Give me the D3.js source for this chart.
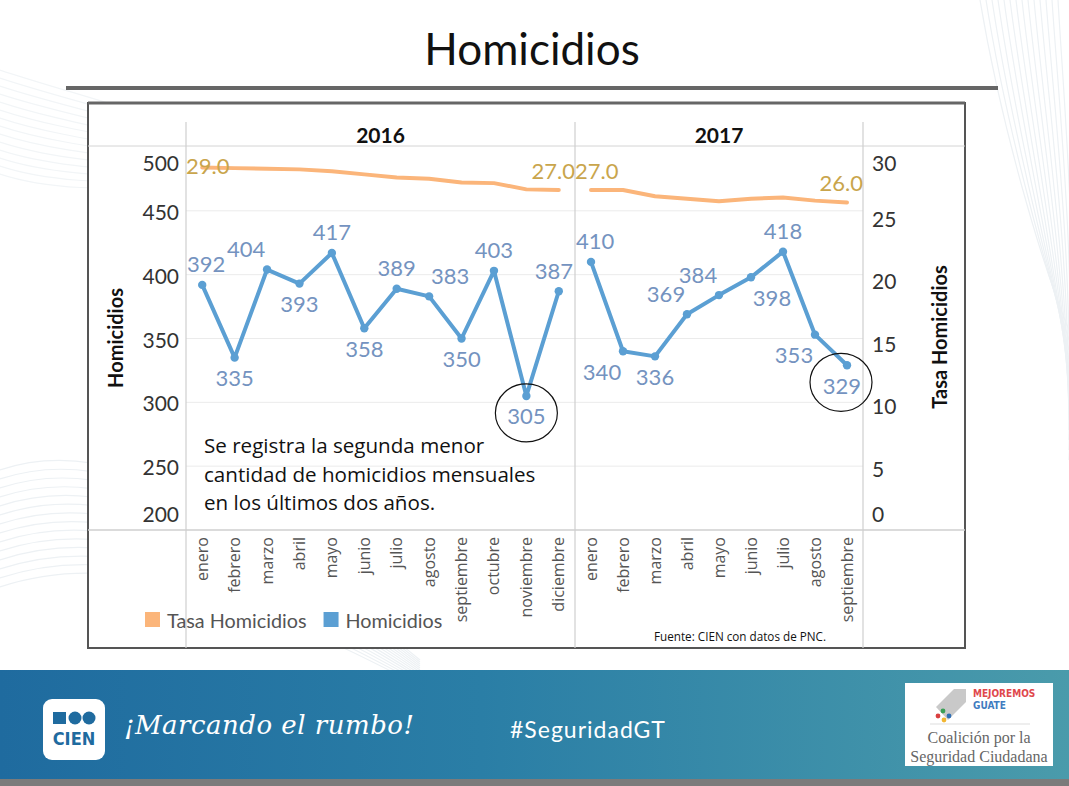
<!DOCTYPE html>
<html><head><meta charset="utf-8">
<script src="https://cdn.jsdelivr.net/npm/d3@7/dist/d3.min.js"></script>
<style>
html,body{margin:0;padding:0;background:#fff;}
svg{display:block;}
</style></head>
<body>
<svg id="c" width="1069" height="786"></svg>
<script>
// ---------------- DATA ----------------
const years = ["2016", "2017"];
const months2016 = ["enero","febrero","marzo","abril","mayo","junio","julio","agosto","septiembre","octubre","noviembre","diciembre"];
const months2017 = ["enero","febrero","marzo","abril","mayo","junio","julio","agosto","septiembre"];
const homicidios2016 = [392, 335, 404, 393, 417, 358, 389, 383, 350, 403, 305, 387];
const homicidios2017 = [410, 340, 336, 369, 384, 398, 418, 353, 329];
const tasa2016 = [29.0, 28.95, 28.9, 28.85, 28.7, 28.45, 28.2, 28.1, 27.8, 27.75, 27.25, 27.2];
const tasa2017 = [27.2, 27.2, 26.7, 26.5, 26.3, 26.5, 26.6, 26.35, 26.2];
const leftTicks = [200, 250, 300, 350, 400, 450, 500];
const rightTicks = [0, 5, 10, 15, 20, 25, 30];
const legendItems = ["Tasa Homicidios", "Homicidios"];
// label placement (layout only): t=top, b=bottom, l/r = shifted left/right
const labelPlace2016 = ["t","b","tl","b","t","b","t","tr","b","t","b","t"];
const labelPlace2017 = ["t","bl","b","tl","tl","br","t","bl","b"];
const tasaLabelIdx2016 = [0, 11];
const tasaLabelIdx2017 = [0, 8];
const highlight = [{panel:0, idx:10}, {panel:1, idx:8}];

// ---------------- LAYOUT ----------------
const svg = d3.select("#c");
const C_BLUE = "#5b9fd3", C_ORANGE = "#fbb57a";
const C_BLUE_LBL = "#7493c0", C_ORANGE_LBL = "#c9a54c";
const numFont = "Lato, 'Open Sans', sans-serif";

// background swooshes
const bg = svg.append("g").attr("fill","none").attr("stroke","#edf1f4").attr("stroke-width",1.2);
for (let i = 0; i < 14; i++) {
  bg.append("path").attr("d", `M0,${470+i*9} C120,${430+i*9} 250,${520+i*6} 420,${660+i*2}`);
  bg.append("path").attr("d", `M${980+i*6},0 C${1000+i*5},120 ${1040+i*3},260 ${1069},${330+i*10}`);
  bg.append("path").attr("d", `M0,${70+i*8} C60,${90+i*8} 140,${110+i*6} 250,${150+i*3}`).attr("stroke","#f2f5f7");
}

// title
svg.append("text").attr("x", 532).attr("y", 65).attr("text-anchor","middle")
  .attr("font-family","Lato, sans-serif").attr("font-size", 44).attr("fill","#111")
  .text("Homicidios");
svg.append("rect").attr("x",66).attr("y",86).attr("width",932).attr("height",4).attr("fill","#666");

// chart box
const box = {l:88, r:965, t:103, b:648};
svg.append("rect").attr("x",box.l).attr("y",box.t).attr("width",box.r-box.l).attr("height",box.b-box.t)
  .attr("fill","#fff").attr("stroke","#555").attr("stroke-width",2);
svg.append("line").attr("x1",box.l).attr("x2",box.r).attr("y1",box.t).attr("y2",box.t).attr("stroke","#666").attr("stroke-width",3);

const paneTop = 147, paneBottom = 530;
const panels = [
  {year: years[0], months: months2016, hom: homicidios2016, tasa: tasa2016, place: labelPlace2016, tlab: tasaLabelIdx2016, x0: 186, x1: 575},
  {year: years[1], months: months2017, hom: homicidios2017, tasa: tasa2017, place: labelPlace2017, tlab: tasaLabelIdx2017, x0: 575, x1: 863}
];
const yL = d3.scaleLinear().domain([200, 500]).range([paneBottom, paneTop]);
const yR = d3.scaleLinear().domain([0, 30.64]).range([paneBottom, paneTop]);

// grid lines
const grid = svg.append("g");
grid.selectAll("line").data(leftTicks.filter(t => t > 200 && t < 500)).join("line")
  .attr("x1", 186).attr("x2", 863).attr("y1", d => yL(d)).attr("y2", d => yL(d))
  .attr("stroke","#ebebeb").attr("stroke-width",1);

// frame lines
svg.append("line").attr("x1",box.l).attr("x2",box.r).attr("y1",146).attr("y2",146).attr("stroke","#d4d4d4");
svg.append("line").attr("x1",box.l).attr("x2",box.r).attr("y1",paneBottom).attr("y2",paneBottom).attr("stroke","#cfcfcf").attr("stroke-width",1.5);
[186, 575, 863].forEach(x => {
  svg.append("line").attr("x1",x).attr("x2",x).attr("y1",122).attr("y2",box.b).attr("stroke","#cfcfcf").attr("stroke-width",1.2);
});

// axes
function clampLabel(sel, scale) {
  sel.selectAll(".tick text").each(function(d) {
    const y = scale(d);
    const cy = Math.max(162, Math.min(513, y));
    d3.select(this).attr("dy", null).attr("y", cy - y).attr("dominant-baseline","central");
  });
}
const axL = svg.append("g").attr("transform","translate(179,0)")
  .call(d3.axisLeft(yL).tickValues(leftTicks).tickSize(0).tickPadding(0));
axL.select(".domain").remove();
axL.selectAll("text").attr("font-family", numFont).attr("font-size", 21).attr("fill","#333");
clampLabel(axL, yL);
const axR = svg.append("g").attr("transform","translate(872,0)")
  .call(d3.axisRight(yR).tickValues(rightTicks).tickSize(0).tickPadding(0));
axR.select(".domain").remove();
axR.selectAll("text").attr("font-family", numFont).attr("font-size", 21).attr("fill","#333");
clampLabel(axR, yR);

svg.append("text").attr("transform","translate(123,338) rotate(-90)").attr("text-anchor","middle")
  .attr("font-family","Lato, sans-serif").attr("font-weight","bold").attr("font-size",20).attr("fill","#111").text("Homicidios");
svg.append("text").attr("transform","translate(947,337) rotate(-90)").attr("text-anchor","middle")
  .attr("font-family","Lato, sans-serif").attr("font-weight","bold").attr("font-size",20).attr("fill","#111").text("Tasa Homicidios");

// panels
const fmtT = v => d3.format(".1f")(Math.round(v));
panels.forEach((p, pi) => {
  const x = d3.scaleBand().domain(p.months).range([p.x0, p.x1]);
  const cx = m => x(m) + x.bandwidth()/2;
  const g = svg.append("g");
  // header
  g.append("text").attr("x", (p.x0+p.x1)/2).attr("y", 143).attr("text-anchor","middle")
    .attr("font-family","Lato, sans-serif").attr("font-weight","bold").attr("font-size",21).attr("fill","#111").text(p.year);
  // month labels
  g.selectAll("text.m").data(p.months).join("text").attr("class","m")
    .attr("transform", d => `translate(${cx(d)+5.5},537) rotate(-90)`).attr("text-anchor","end")
    .attr("font-family","'Open Sans', sans-serif").attr("font-size",16).attr("fill","#555").text(d => d);
  // tasa line
  const tasaPts = p.months.map((m,i) => [cx(m), yR(p.tasa[i])]);
  g.append("path").attr("d", d3.line()(tasaPts)).attr("fill","none").attr("stroke",C_ORANGE)
    .attr("stroke-width",4).attr("stroke-linejoin","round").attr("stroke-linecap","round");
  // homicidios line
  const homPts = p.months.map((m,i) => [cx(m), yL(p.hom[i])]);
  g.append("path").attr("d", d3.line()(homPts)).attr("fill","none").attr("stroke",C_BLUE)
    .attr("stroke-width",4).attr("stroke-linejoin","round").attr("stroke-linecap","round");
  g.selectAll("circle").data(homPts).join("circle").attr("cx", d => d[0]).attr("cy", d => d[1]).attr("r",4.2).attr("fill",C_BLUE);
  // homicidios labels
  homPts.forEach((pt, i) => {
    const pl = p.place[i];
    let dy = pl[0] === "t" ? -21 : 20;
    let dx = pl.includes("l") ? -21 : pl.includes("r") ? 21 : 0;
    const t = g.append("text").attr("font-family", numFont).attr("font-size",22).attr("fill",C_BLUE_LBL)
      .attr("text-anchor","middle").attr("dominant-baseline","central").text(p.hom[i]);
    const w = t.node().getComputedTextLength();
    let lx = Math.max(p.x0 + w/2 + 1, Math.min(p.x1 - w/2 - 2, pt[0] + dx));
    t.attr("x", lx).attr("y", pt[1] + dy);
  });
  // tasa labels
  p.tlab.forEach(i => {
    const pt = tasaPts[i];
    const t = g.append("text").attr("font-family", numFont).attr("font-size",22).attr("fill",C_ORANGE_LBL)
      .attr("text-anchor","middle").attr("dominant-baseline","central").text(fmtT(p.tasa[i]));
    const w = t.node().getComputedTextLength();
    const lx = Math.max(p.x0 + w/2, Math.min(p.x1 - w/2, pt[0]));
    const ly = Math.max(paneTop + 18, pt[1] - 20);
    t.attr("x", lx).attr("y", ly);
  });
  p.cx = cx; p.homPts = homPts;
});

// highlight ellipses
highlight.forEach(h => {
  const p = panels[h.panel];
  const pt = p.homPts[h.idx];
  const w = 40;
  const lx = Math.max(p.x0 + w/2 + 1, Math.min(p.x1 - w/2 - 2, pt[0]));
  svg.append("ellipse").attr("cx", lx).attr("cy", pt[1] + 17).attr("rx",31).attr("ry",29)
    .attr("fill","none").attr("stroke","#111").attr("stroke-width",1.2);
});

// annotation
const note = ["Se registra la segunda menor", "cantidad de homicidios mensuales", "en los últimos dos años."];
svg.append("g").selectAll("text").data(note).join("text")
  .attr("x", 204).attr("y", (d,i) => 453 + i*28.5)
  .attr("font-family","'Open Sans', sans-serif").attr("font-size",20.6).attr("fill","#111").text(d => d);

// legend
const lg = svg.append("g");
const legendColors = [C_ORANGE, C_BLUE];
let lxpos = 145;
legendItems.forEach((name, i) => {
  lg.append("rect").attr("x", lxpos).attr("y", 612).attr("width",15).attr("height",15).attr("fill",legendColors[i]);
  const t = lg.append("text").attr("x", lxpos + 22).attr("y", 620).attr("dominant-baseline","central")
    .attr("font-family","Lato, sans-serif").attr("font-size",19.8).attr("fill","#555").text(name);
  lxpos += 22 + t.node().getComputedTextLength() + 17;
});
svg.append("text").attr("x", 654).attr("y", 641).attr("font-family","'Open Sans', sans-serif")
  .attr("font-size",11.7).attr("fill","#111").text("Fuente: CIEN con datos de PNC.");

// bottom banner
const defs = svg.append("defs");
const grad = defs.append("linearGradient").attr("id","bn").attr("x1","0").attr("x2","1");
grad.append("stop").attr("offset","0").attr("stop-color","#1f6b9f");
grad.append("stop").attr("offset","0.45").attr("stop-color","#2a7ea6");
grad.append("stop").attr("offset","1").attr("stop-color","#4a9bab");
svg.append("rect").attr("x",0).attr("y",670).attr("width",1069).attr("height",109).attr("fill","url(#bn)");
svg.append("rect").attr("x",0).attr("y",779).attr("width",1069).attr("height",7).attr("fill","#7b7b7b");

// CIEN logo
svg.append("rect").attr("x",43).attr("y",699).attr("width",62).attr("height",61).attr("rx",9).attr("fill","#fff");
svg.append("rect").attr("x",53).attr("y",712).attr("width",13).attr("height",12).attr("fill","#1f6b9f");
svg.append("circle").attr("cx",75).attr("cy",718).attr("r",6.5).attr("fill","#1f6b9f");
svg.append("circle").attr("cx",89).attr("cy",718).attr("r",6.5).attr("fill","#1f6b9f");
svg.append("text").attr("x",74).attr("y",745).attr("text-anchor","middle").attr("font-family","'DejaVu Sans Condensed', 'DejaVu Sans', sans-serif")
  .attr("font-weight","bold").attr("font-size",18).attr("fill","#1f6b9f").text("CIEN");
svg.append("text").attr("x",124).attr("y",734).attr("font-family","'DejaVu Serif', serif").attr("font-style","italic")
  .attr("font-size",26).attr("fill","#fff").attr("font-weight",300).attr("letter-spacing",0.5).text("¡Marcando el rumbo!");
svg.append("text").attr("x",510).attr("y",738).attr("font-family","Lato, sans-serif")
  .attr("font-size",23).attr("fill","#fff").attr("letter-spacing",1).text("#SeguridadGT");

// coalition logo
svg.append("rect").attr("x",905).attr("y",683).attr("width",148).attr("height",83).attr("fill","#fff");
svg.append("path").attr("d","M936,707 L954,689 L966,689 L966,702 L948,720 Z").attr("fill","#c9c9c9");
[["#d94040",938,716],["#3aa056",943,711],["#f2b632",944,720],["#2f6fb5",949,716]].forEach(c=>{
  svg.append("circle").attr("cx",c[1]).attr("cy",c[2]).attr("r",2.4).attr("fill",c[0]);
});
svg.append("text").attr("x",973).attr("y",697).attr("font-family","'DejaVu Sans Condensed', sans-serif").attr("font-weight","bold")
  .attr("font-size",10).attr("fill","#e0484c").text("MEJOREMOS");
svg.append("text").attr("x",973).attr("y",709).attr("font-family","'DejaVu Sans Condensed', sans-serif").attr("font-weight","bold")
  .attr("font-size",10).attr("fill","#3f7cc0").text("GUATE");
svg.append("line").attr("x1",930).attr("x2",1030).attr("y1",724).attr("y2",724).attr("stroke","#ddd");
svg.append("text").attr("x",979).attr("y",743).attr("text-anchor","middle").attr("font-family","'Liberation Serif', serif")
  .attr("font-size",16).attr("fill","#666").text("Coalición por la");
svg.append("text").attr("x",979).attr("y",762).attr("text-anchor","middle").attr("font-family","'Liberation Serif', serif")
  .attr("font-size",16).attr("fill","#666").text("Seguridad Ciudadana");
</script>
</body></html>
